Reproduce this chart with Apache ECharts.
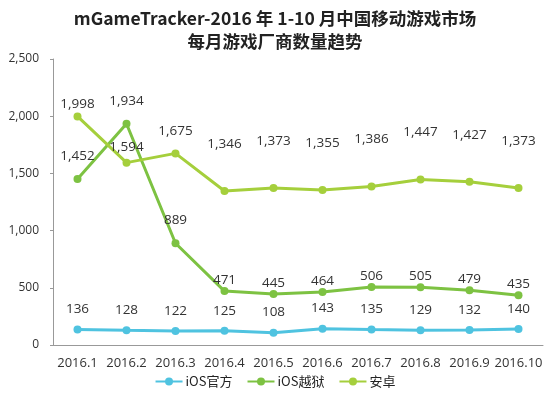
<!DOCTYPE html>
<html>
<head>
<meta charset="utf-8">
<title>mGameTracker</title>
<script src="https://cdn.jsdelivr.net/npm/echarts@6/dist/echarts.min.js"></script>
<style>
  html,body{margin:0;padding:0;background:#fff;}
  #chart{width:550px;height:399px;}
</style>
</head>
<body>
<div id="chart"></div>
<script>
var months = ['2016.1','2016.2','2016.3','2016.4','2016.5','2016.6','2016.7','2016.8','2016.9','2016.10'];
var iosOfficial = [136,128,122,125,108,143,135,129,132,140];
var iosJailbreak = [1452,1934,889,471,445,464,506,505,479,435];
var android = [1998,1594,1675,1346,1373,1355,1386,1447,1427,1373];
var yTicks = [0,500,1000,1500,2000,2500];

// label gaps (how far above the point the number sits), as in the picture
var gapOfficial = [9,9,9,9,9,9,9,9,9,9];
var gapJailbreak = [12,12,12,0,0,0,0,0,0,0];
var gapAndroid = [1,4,11,36,36,36,36,36,36,36];

function fmt(v){ return v.toLocaleString('en-US'); }

function mk(name, vals, gaps, color){
    return {
        name: name,
        type: 'line',
        data: vals.map(function(v,i){ return {value:v, label:{distance:gaps[i]}}; }),
        symbol: 'circle',
        symbolSize: 8,
        lineStyle: {width: 3, color: color},
        itemStyle: {color: color},
        label: {show: true, position: 'top', color: '#333', fontSize: 13.5,
                fontFamily: 'Open Sans', formatter: function(p){ return fmt(p.value); }},
        animation: false
    };
}

var chart = echarts.init(document.getElementById('chart'));
chart.setOption({
    title: {
        text: 'mGameTracker-2016 年 1-10 月中国移动游戏市场\n每月游戏厂商数量趋势',
        left: 'center', top: 2, padding: [5, 22, 5, 0],
        textStyle: {fontSize: 17.5, fontWeight: 'bold', color: '#222', lineHeight: 23,
                    fontFamily: 'Noto Sans CJK SC'}
    },
    legend: {
        bottom: 6, left: 'center', itemWidth: 27, itemHeight: 10, itemGap: 14,
        textStyle: {fontSize: 13, color: '#222', fontFamily: 'Noto Sans CJK SC', padding: [0,0,0,-2]},
        data: ['iOS官方','iOS越狱','安卓']
    },
    grid: {left: 53, right: 7, top: 59, bottom: 54},
    xAxis: {
        type: 'category', data: months,
        axisLine: {lineStyle: {color: '#999'}},
        axisTick: {show: false},
        axisLabel: {color: '#333', fontSize: 13, margin: 12, fontFamily: 'Open Sans', interval: 0}
    },
    yAxis: {
        type: 'value', min: yTicks[0], max: yTicks[yTicks.length-1], interval: 500,
        axisLine: {show: true, lineStyle: {color: '#999'}},
        axisTick: {show: true, length: 3, lineStyle: {color: '#999'}},
        splitLine: {show: false},
        axisLabel: {color: '#333', fontSize: 12, margin: 14, fontFamily: 'Open Sans',
                    formatter: function(v){ return fmt(v); }}
    },
    series: [
        mk('iOS官方', iosOfficial, gapOfficial, '#4fc3e0'),
        mk('iOS越狱', iosJailbreak, gapJailbreak, '#7dc242'),
        mk('安卓', android, gapAndroid, '#a5cf3c')
    ]
});
</script>
</body>
</html>
